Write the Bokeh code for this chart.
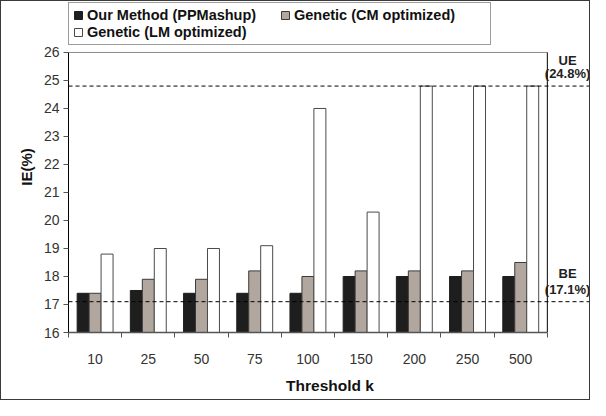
from bokeh.plotting import figure
from bokeh.models import (ColumnDataSource, FixedTicker, Span, Label, Legend, LegendItem)
from bokeh.embed import file_html
from bokeh.resources import INLINE

# ---- data ----
thresholds = ["10", "25", "50", "75", "100", "150", "200", "250", "500"]
our_method = [17.4, 17.5, 17.4, 17.4, 17.4, 18.0, 18.0, 18.0, 18.0]
genetic_cm = [17.4, 17.9, 17.9, 18.2, 18.0, 18.2, 18.2, 18.2, 18.5]
genetic_lm = [18.8, 19.0, 19.0, 19.1, 24.0, 20.3, 24.8, 24.8, 24.8]
y_ticks = [16, 17, 18, 19, 20, 21, 22, 23, 24, 25, 26]
ue_value = 24.8
be_value = 17.1

FONT = "Liberation Sans"
n = len(thresholds)
centers = [i + 0.5 for i in range(n)]
bw = 0.225

src = ColumnDataSource(dict(
    x=centers,
    xb=[c - bw for c in centers],
    xw=[c + bw for c in centers],
    our=our_method, cm=genetic_cm, lm=genetic_lm,
))

p = figure(width=590, height=400, output_backend="svg", toolbar_location=None,
           x_range=(0, 9.83), y_range=(16, 27.82),
           min_border_left=67, min_border_right=0, min_border_top=0, min_border_bottom=69)
p.styles = {"border": "1px solid #3a3a3a"}
p.outline_line_alpha = 0
p.xgrid.visible = False
p.ygrid.visible = False

r1 = p.vbar(x="xb", top="our", bottom=16, width=bw, source=src,
            fill_color="#1e1e1e", line_color="#1e1e1e", line_width=1)
r2 = p.vbar(x="x", top="cm", bottom=16, width=bw, source=src,
            fill_color="#b2a79e", line_color="#3a3a3a", line_width=1)
r3 = p.vbar(x="xw", top="lm", bottom=16, width=bw, source=src,
            fill_color="#ffffff", line_color="#4a4a4a", line_width=1)

# plot-area border lines (top grey, right black)
p.segment(x0=[0], y0=[26], x1=[n], y1=[26], line_color="#8a8a8a", line_width=1)
p.segment(x0=[n], y0=[16], x1=[n], y1=[26], line_color="#000000", line_width=1)

# reference lines
for v in (ue_value, be_value):
    p.add_layout(Span(location=v, dimension="width", line_color="#000000",
                      line_dash="4 3", line_width=1))

for txt, yv in (("UE", 25.71), ("(" + str(ue_value) + "%)", 25.25),
                ("BE", 18.11), ("(" + str(be_value) + "%)", 17.54)):
    p.add_layout(Label(x=9.38, y=yv, text=txt, text_align="center", text_baseline="middle",
                       text_font=FONT, text_font_style="bold", text_font_size="13px",
                       text_color="#222222"))

# y axis
p.yaxis.ticker = FixedTicker(ticks=y_ticks)
p.yaxis.bounds = (16, 26)
p.yaxis.axis_line_color = "#000000"
p.yaxis.major_tick_in = 0
p.yaxis.major_tick_out = 5
p.yaxis.major_tick_line_color = "#555555"
p.yaxis.minor_tick_line_alpha = 0
p.yaxis.major_label_text_font = FONT
p.yaxis.major_label_text_font_size = "14px"
p.yaxis.major_label_text_color = "#333333"
p.yaxis.major_label_standoff = 4
p.yaxis.axis_label = "IE(%)"
p.yaxis.axis_label_text_font = FONT
p.yaxis.axis_label_text_font_style = "bold"
p.yaxis.axis_label_text_font_size = "15px"
p.yaxis.axis_label_text_color = "#111111"
p.yaxis.axis_label_standoff = 6

# x axis
p.xaxis.ticker = FixedTicker(ticks=centers, minor_ticks=list(range(n + 1)))
p.xaxis.bounds = (0, n)
p.xaxis.major_label_overrides = {c: t for c, t in zip(centers, thresholds)}
p.xaxis.axis_line_color = "#555555"
p.xaxis.axis_line_width = 1.5
p.xaxis.major_tick_in = 0
p.xaxis.major_tick_out = 0
p.xaxis.minor_tick_in = 0
p.xaxis.minor_tick_out = 5
p.xaxis.minor_tick_line_color = "#555555"
p.xaxis.major_label_text_font = FONT
p.xaxis.major_label_text_font_size = "14px"
p.xaxis.major_label_text_color = "#333333"
p.xaxis.major_label_standoff = 16
p.xaxis.axis_label = "Threshold k"
p.xaxis.axis_label_text_font = FONT
p.xaxis.axis_label_text_font_style = "bold"
p.xaxis.axis_label_text_font_size = "15.5px"
p.xaxis.axis_label_text_color = "#111111"
p.xaxis.axis_label_standoff = 10

legend = Legend(items=[
    LegendItem(label="Our Method (PPMashup)", renderers=[r1]),
    LegendItem(label="Genetic (CM optimized)", renderers=[r2]),
    LegendItem(label="Genetic (LM optimized)", renderers=[r3]),
], location=(0, 287), orientation="horizontal", ncols=2,
    label_text_font=FONT, label_text_font_style="bold", label_text_font_size="14.5px",
    label_text_color="#111111", glyph_width=10, glyph_height=10, label_standoff=4,
    label_height=16, label_width=192, spacing=1, padding=4, margin=0,
    border_line_color="#3a3a3a", border_line_width=1, background_fill_alpha=1)
p.add_layout(legend, "center")

open("out.html", "w").write(file_html(p, INLINE))
